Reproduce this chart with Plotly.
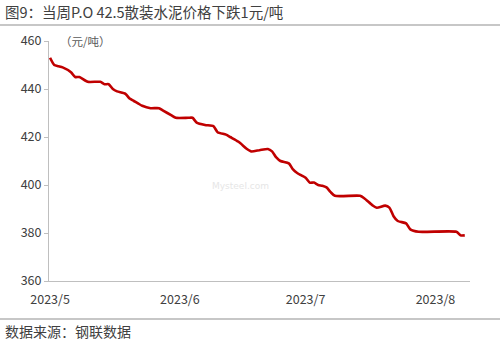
import plotly.graph_objects as go

dates = ["2023-05-01", "2023-05-02", "2023-05-03", "2023-05-04", "2023-05-06", "2023-05-07",
         "2023-05-08", "2023-05-10", "2023-05-13", "2023-05-14", "2023-05-15", "2023-05-16",
         "2023-05-17", "2023-05-19", "2023-05-20", "2023-05-21", "2023-05-22", "2023-05-23",
         "2023-05-25", "2023-05-27", "2023-05-28", "2023-05-30", "2023-05-31", "2023-06-03",
         "2023-06-04", "2023-06-05", "2023-06-07", "2023-06-09", "2023-06-10", "2023-06-12",
         "2023-06-13", "2023-06-15", "2023-06-17", "2023-06-18", "2023-06-20", "2023-06-22",
         "2023-06-23", "2023-06-24", "2023-06-25", "2023-06-27", "2023-06-28", "2023-06-29",
         "2023-06-30", "2023-07-01", "2023-07-02", "2023-07-03", "2023-07-04", "2023-07-05",
         "2023-07-06", "2023-07-07", "2023-07-08", "2023-07-14", "2023-07-15", "2023-07-17",
         "2023-07-18", "2023-07-20", "2023-07-21", "2023-07-22", "2023-07-23", "2023-07-25",
         "2023-07-26", "2023-07-28", "2023-08-06", "2023-08-07", "2023-08-08"]
prices = [453, 450, 449.5, 449, 447, 445,
          445, 443, 443, 442, 442, 440,
          439, 438, 436, 435, 434, 433,
          432, 432, 431, 429, 428, 428,
          428, 426, 425, 424.5, 422, 421,
          420, 418, 415, 414, 414.5, 415,
          414, 411.5, 410, 409, 406.5, 405,
          404, 403, 401, 401, 400, 399.7,
          399, 397, 395.5, 395.5, 394.5, 391.5,
          390.5, 391.4, 390.6, 387, 385, 384,
          381.5, 380.5, 380.5, 379, 379]

tick_vals = ["2023-05-01", "2023-06-01", "2023-07-01", "2023-08-01"]
tick_text = ["2023/5", "2023/6", "2023/7", "2023/8"]
y_ticks = [360, 380, 400, 420, 440, 460]

title = "图9：当周P.O 42.5散装水泥价格下跌1元/吨"
unit = "（元/吨）"
source = "数据来源：钢联数据"

FONT = "Noto Sans CJK SC"

fig = go.Figure()
fig.add_trace(go.Scatter(x=dates, y=prices, mode="lines",
                         line=dict(color="#C00000", width=2.6, shape="spline", smoothing=0.6),
                         hoverinfo="skip", showlegend=False))

L, R, T, B = 49, 30, 41, 65
W, H = 500, 346
pw, ph = W - L - R, H - T - B

def px(x):
    return (x - L) / pw

def py(y):
    return (H - B - y) / ph

fig.update_layout(
    width=W, height=H,
    margin=dict(l=L, r=R, t=T, b=B),
    paper_bgcolor="white", plot_bgcolor="white",
    font=dict(family=FONT, color="#404040", size=12),
    xaxis=dict(type="date", range=["2023-04-30 18:00", "2023-08-09 06:00"],
               tickvals=tick_vals, ticktext=tick_text, showgrid=False,
               showline=True, linecolor="#BFBFBF", linewidth=1, ticks="",
               ticklabelstandoff=7,
               tickfont=dict(size=12.5, color="#404040"), zeroline=False),
    yaxis=dict(range=[360, 460], tickvals=y_ticks, showgrid=False,
               showline=True, linecolor="#BFBFBF", linewidth=1,
               ticks="outside", ticklen=4, tickcolor="#BFBFBF",
               tickfont=dict(size=12.5, color="#404040"), zeroline=False),
    shapes=[
        dict(type="line", xref="paper", yref="paper", x0=px(0), x1=px(W), y0=py(25), y1=py(25),
             line=dict(color="#909090", width=1.2)),
        dict(type="line", xref="paper", yref="paper", x0=px(0), x1=px(W), y0=py(319), y1=py(319),
             line=dict(color="#909090", width=1.2)),
    ],
    annotations=[
        dict(text=title, xref="paper", yref="paper", x=px(3), y=py(12), xanchor="left",
             yanchor="middle", showarrow=False, font=dict(size=14.5, color="#404040", family=FONT)),
        dict(text=unit, xref="paper", yref="paper", x=px(58), y=py(41), xanchor="left",
             yanchor="middle", showarrow=False, font=dict(size=11.5, color="#595959", family=FONT)),
        dict(text=source, xref="paper", yref="paper", x=px(3), y=py(331), xanchor="left",
             yanchor="middle", showarrow=False, font=dict(size=14, color="#404040", family=FONT)),
        dict(text="Mysteel.com", xref="paper", yref="paper", x=px(240), y=py(186), xanchor="center",
             yanchor="middle", showarrow=False, font=dict(size=9, color="#E6E6E6", family="DejaVu Sans")),
    ],
)

fig.write_html("out.html")
